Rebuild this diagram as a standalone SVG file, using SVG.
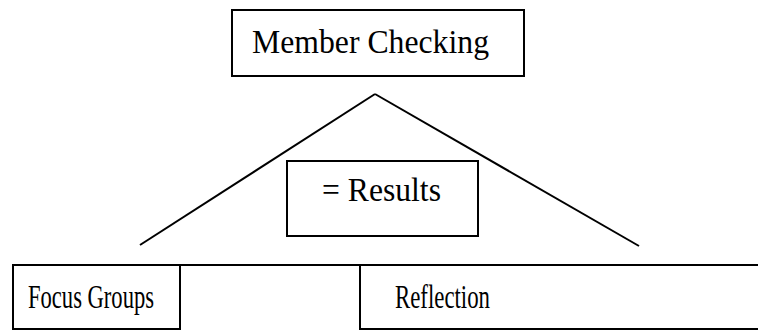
<svg xmlns="http://www.w3.org/2000/svg" width="758" height="330" viewBox="0 0 758 330">
<style>
.box{fill:#fff;stroke:#000;stroke-width:2}
.ln{stroke:#000;stroke-width:2;fill:none}
.t{font-family:"Liberation Serif","Times New Roman",serif;font-size:34px;fill:#000}
</style>
<rect width="758" height="330" fill="#fff"/>
<g id="connectors">
<line class="ln" x1="140" y1="245" x2="375" y2="94"/>
<line class="ln" x1="375" y1="94" x2="639" y2="246"/>
<line class="ln" x1="180" y1="265" x2="360" y2="265"/>
</g>
<g id="member-checking">
<rect class="box" x="232" y="10" width="292" height="66"/>
<text class="t" x="252" y="53" textLength="237" lengthAdjust="spacingAndGlyphs">Member Checking</text>
</g>
<g id="results">
<rect class="box" x="287" y="161" width="191" height="75"/>
<text class="t" x="322" y="201" textLength="119" lengthAdjust="spacingAndGlyphs">= Results</text>
</g>
<g id="focus-groups">
<rect class="box" x="13" y="265" width="167" height="64"/>
<text class="t" x="28" y="308" textLength="126" lengthAdjust="spacingAndGlyphs">Focus Groups</text>
</g>
<g id="reflection">
<rect class="box" x="360" y="265" width="410" height="64"/>
<text class="t" x="395" y="308" textLength="95" lengthAdjust="spacingAndGlyphs">Reflection</text>
</g>
</svg>
